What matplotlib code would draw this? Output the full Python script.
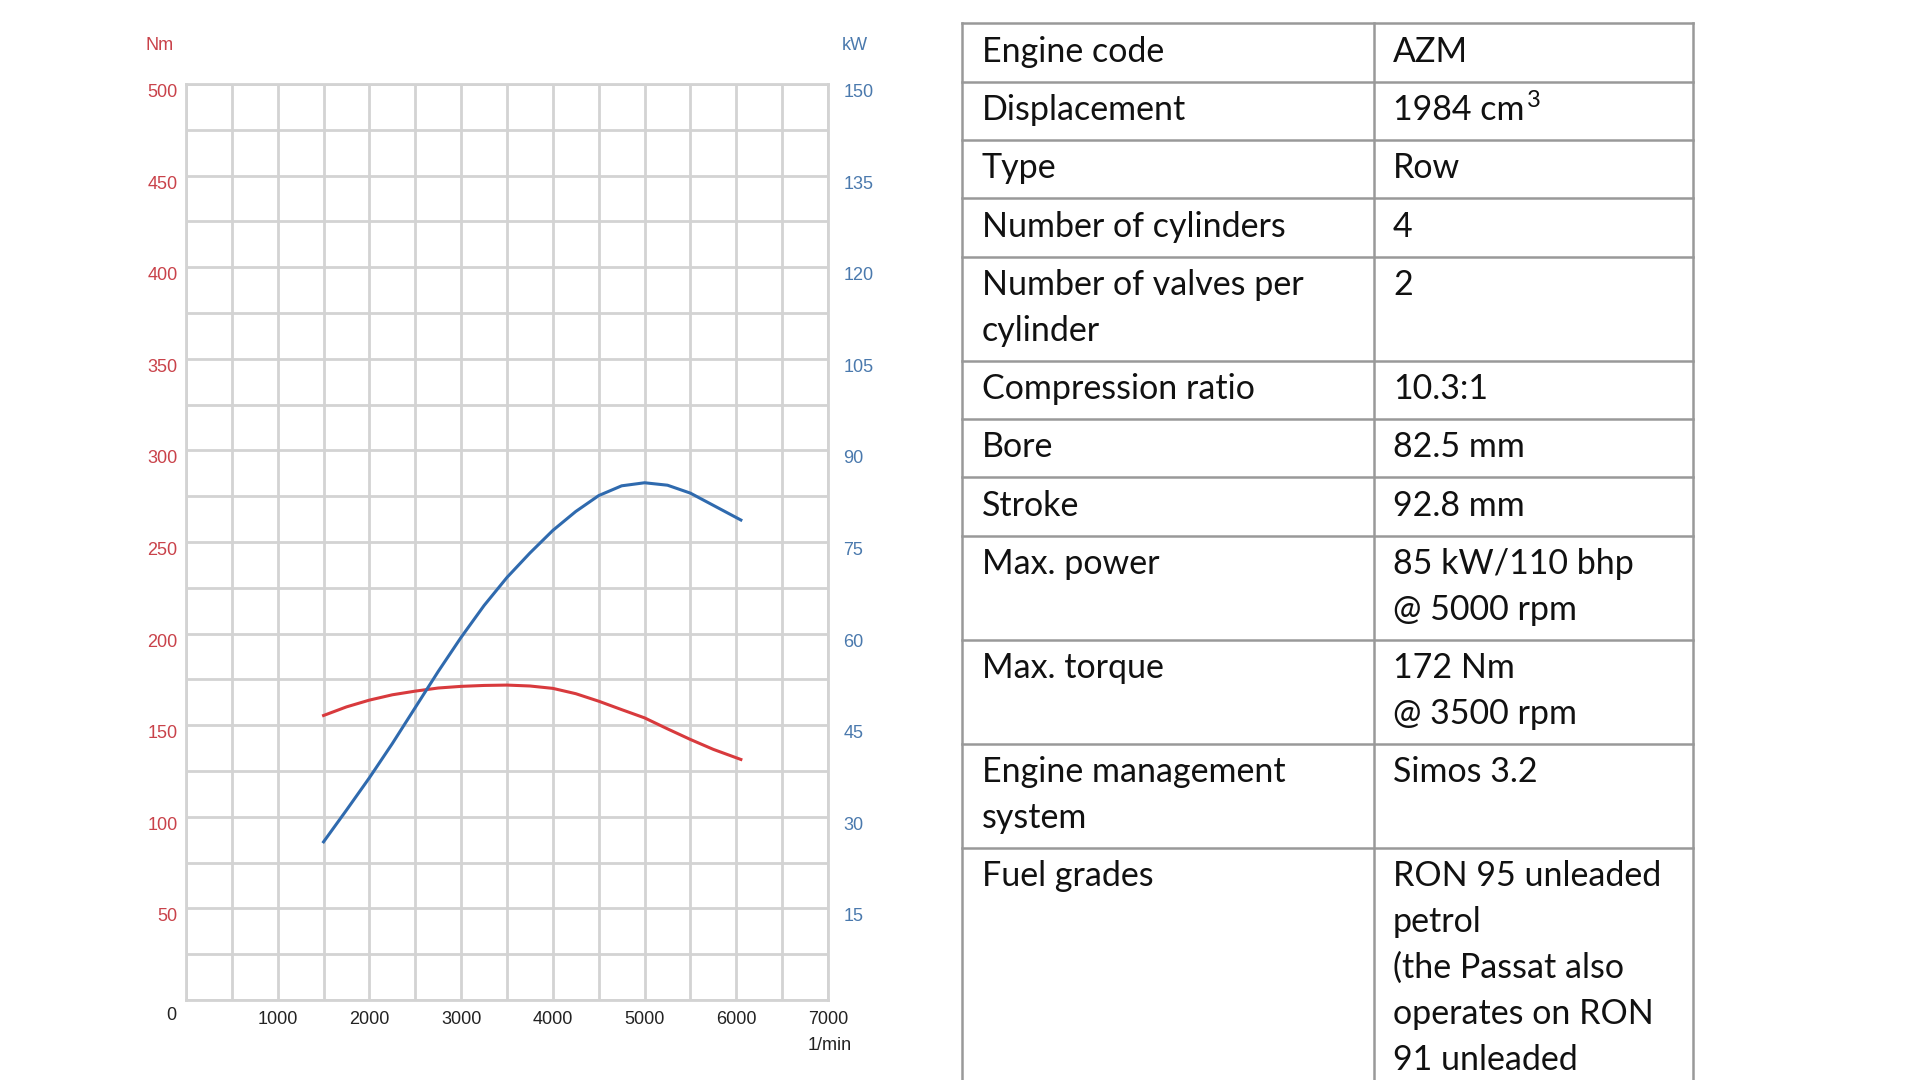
import matplotlib
matplotlib.use("Agg")
import matplotlib.pyplot as plt

# engine curves
rpm = [1500, 1750, 2000, 2250, 2500, 2750, 3000, 3250, 3500, 3750,
       4000, 4250, 4500, 4750, 5000, 5250, 5500, 5750, 6050]
torque_nm = [155.3, 160.0, 163.7, 166.6, 168.6, 170.3, 171.2, 171.7, 171.9, 171.4,
             170.1, 167.2, 163.1, 158.5, 154.0, 148.0, 142.2, 136.8, 131.3]
power_kw = [25.9, 31.1, 36.4, 42.0, 47.9, 53.8, 59.4, 64.6, 69.2, 73.2,
            76.9, 80.0, 82.6, 84.2, 84.7, 84.3, 83.0, 81.0, 78.6]

x_labels = [1000, 2000, 3000, 4000, 5000, 6000, 7000]
nm_labels = [50, 100, 150, 200, 250, 300, 350, 400, 450, 500]
kw_labels = [15, 30, 45, 60, 75, 90, 105, 120, 135, 150]

# spec table
spec_names = ["Engine code", "Displacement", "Type", "Number of cylinders",
              "Number of valves per\ncylinder", "Compression ratio", "Bore", "Stroke",
              "Max. power", "Max. torque", "Engine management\nsystem", "Fuel grades"]
spec_values = ["AZM", "1984 cm", "Row", "4", "2", "10.3:1", "82.5 mm", "92.8 mm",
               "85 kW/110 bhp\n@ 5000 rpm", "172 Nm\n@ 3500 rpm", "Simos 3.2",
               "RON 95 unleaded\npetrol\n(the Passat also\noperates on RON\n91 unleaded"]
spec_sup = {1: "3"}  # superscript after a value

RED = "#d83a3d"
BLUE = "#2f6aae"
RED_TXT = "#c9424a"
BLUE_TXT = "#4a79ad"
GRID = "#d3d3d3"
TFONT = ["Lato", "DejaVu Sans"]

plt.rcParams["font.family"] = ["Liberation Sans", "DejaVu Sans"]

fig = plt.figure(figsize=(19.2, 10.8), dpi=100)
W, H = 1920, 1080

# --- chart ---
L, R, T, B = 186, 828, 84, 1000
ax = fig.add_axes([L / W, (H - B) / H, (R - L) / W, (B - T) / H])
ax.set_xlim(0, 7000)
ax.set_ylim(0, 500)
ax.set_xticks(range(0, 7001, 500))
ax.set_xticklabels([str(v) if v in x_labels else "" for v in range(0, 7001, 500)])
ax.set_yticks(range(0, 501, 25))
ax.set_yticklabels([str(v) if v in nm_labels else "" for v in range(0, 501, 25)])
ax.grid(True, color=GRID, lw=2)
ax.set_axisbelow(True)
for s in ax.spines.values():
    s.set_color(GRID)
    s.set_linewidth(2)
ax.tick_params(axis="x", length=0, pad=8, labelsize=13, labelcolor="#222222")
ax.tick_params(axis="y", length=0, pad=6, labelsize=13, labelcolor=RED_TXT)
plt.setp(ax.get_yticklabels(), va="top")

ax2 = ax.twinx()
ax2.set_ylim(0, 150)
ax2.set_yticks(kw_labels)
ax2.tick_params(axis="y", length=0, pad=11, labelsize=13, labelcolor=BLUE_TXT)
plt.setp(ax2.get_yticklabels(), va="top")
for s in ax2.spines.values():
    s.set_visible(False)

ax.plot(rpm, torque_nm, color=RED, lw=2.2, solid_joinstyle="round")
ax2.plot(rpm, power_kw, color=BLUE, lw=2.2, solid_joinstyle="round")

ax.annotate("0", xy=(0, 0), xycoords="axes fraction", xytext=(-15, -15),
            textcoords="offset pixels", ha="center", va="center", fontsize=13, color="#222222")
ax.annotate("1/min", xy=(1, 0), xycoords="axes fraction", xytext=(2, -46),
            textcoords="offset pixels", ha="center", va="center", fontsize=13, color="#222222")
ax.annotate("Nm", xy=(0, 1), xycoords="axes fraction", xytext=(-26, 39),
            textcoords="offset pixels", ha="center", va="center", fontsize=13, color=RED_TXT)
ax.annotate("kW", xy=(1, 1), xycoords="axes fraction", xytext=(27, 38),
            textcoords="offset pixels", ha="center", va="center", fontsize=13, color=BLUE_TXT)

# --- table drawn in pixel space ---
tx = fig.add_axes([0, 0, 1, 1], zorder=-1)
tx.set_xlim(0, W)
tx.set_ylim(H, 0)
tx.axis("off")

col_l, col_m, col_r = 962, 1374, 1693
top = 23.3
one_row, line_gap = 58.3, 45.8
tcolor = "#999999"

y = top
bounds = [y]
sup_texts = []
for i, (name, val) in enumerate(zip(spec_names, spec_values)):
    n = max(name.count("\n"), val.count("\n")) + 1
    for k, line in enumerate(name.split("\n")):
        tx.text(col_l + 20, y + 28.5 + k * line_gap, line, fontsize=24.5, va="center",
                ha="left", family=TFONT, color="#111111")
    for k, line in enumerate(val.split("\n")):
        t = tx.text(col_m + 19, y + 28.5 + k * line_gap, line, fontsize=24.5, va="center",
                    ha="left", family=TFONT, color="#111111")
        if i in spec_sup:
            sup_texts.append((t, spec_sup[i]))
    y += one_row + (n - 1) * line_gap
    bounds.append(y)

for yb in bounds:
    tx.plot([col_l, col_r], [yb, yb], color=tcolor, lw=1.8, clip_on=False)
for xb in (col_l, col_m, col_r):
    tx.plot([xb, xb], [top, bounds[-1]], color=tcolor, lw=1.8, clip_on=False)

fig.canvas.draw()
for t, s in sup_texts:
    bb = t.get_window_extent()
    tx.annotate(s, xy=(bb.x1, bb.y1), xycoords="figure pixels", xytext=(2, 4),
                textcoords="offset pixels", ha="left", va="top", fontsize=17,
                family=TFONT, color="#111111")

fig.savefig("out.png", dpi=100)
